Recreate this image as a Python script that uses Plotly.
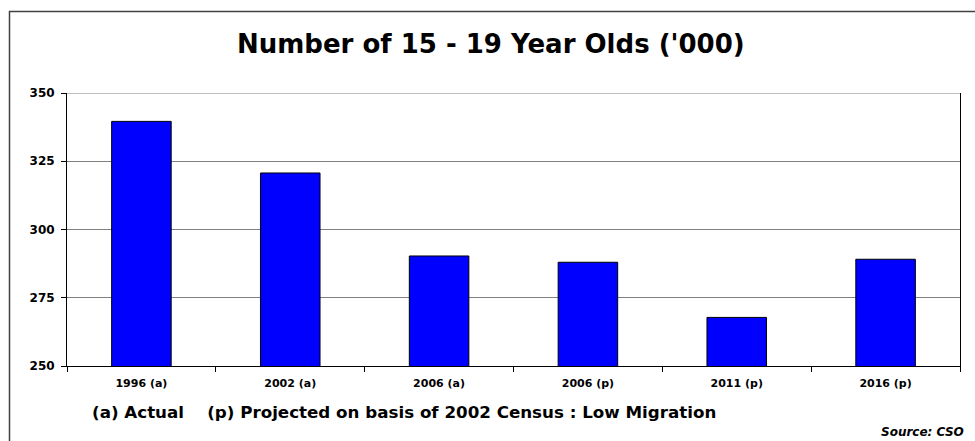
import plotly.graph_objects as go

# Population aged 15-19, thousands
categories = ["1996 (a)", "2002 (a)", "2006 (a)", "2006 (p)", "2011 (p)", "2016 (p)"]
values = [339.6, 320.7, 290.3, 288.0, 267.8, 289.1]
y_ticks = [250, 275, 300, 325, 350]

title_text = "Number of 15 - 19 Year Olds ('000)"
footnote = "(a) Actual    (p) Projected on basis of 2002 Census : Low Migration"
source = "Source: CSO"

FONT = "'DejaVu Sans', Arial, sans-serif"

W, H = 975, 441
L, R, T, B = 67, 15, 93, 75
pw, ph = W - L - R, H - T - B


def px_x(x):
    return (x - L) / pw


def px_y(y):
    return (H - B - y) / ph


fig = go.Figure(
    go.Bar(
        x=categories,
        y=values,
        marker=dict(color="#0000FF", line=dict(color="#000000", width=1)),
        hoverinfo="x+y",
    )
)

fig.update_layout(
    width=W,
    height=H,
    margin=dict(l=L, r=R, t=T, b=B),
    paper_bgcolor="white",
    plot_bgcolor="white",
    bargap=0.6,
    showlegend=False,
    font=dict(family=FONT, color="black"),
)

fig.update_xaxes(
    type="category",
    showline=True,
    linecolor="black",
    linewidth=1,
    mirror=False,
    ticks="outside",
    tickson="boundaries",
    ticklen=5,
    tickcolor="black",
    ticklabelstandoff=7,
    tickfont=dict(family=FONT, size=11, color="black", weight="bold"),
    showgrid=False,
)

fig.update_yaxes(
    range=[250, 350],
    tickvals=y_ticks,
    ticktext=[str(v) for v in y_ticks],
    showline=True,
    linecolor="black",
    linewidth=1,
    mirror=True,
    ticks="outside",
    ticklen=5,
    tickcolor="black",
    ticklabelstandoff=4,
    tickfont=dict(family=FONT, size=12, color="black", weight="bold"),
    showgrid=True,
    gridcolor="#808080",
    gridwidth=1,
    zeroline=False,
)

# Top gridline at 350 closes the plot box
fig.add_shape(
    type="line", xref="paper", yref="y", x0=0, x1=1, y0=350, y1=350,
    line=dict(color="#808080", width=1), layer="above",
)

# Outer chart frame
fig.add_shape(
    type="rect", xref="paper", yref="paper",
    x0=px_x(9.5), x1=px_x(990), y0=px_y(455), y1=px_y(11.5),
    line=dict(color="#404040", width=1.5), fillcolor="rgba(0,0,0,0)",
    layer="below",
)

# Chart title
fig.add_annotation(
    text="<b>" + title_text + "</b>",
    xref="paper", yref="paper",
    x=px_x(491), y=px_y(44),
    xanchor="center", yanchor="middle",
    showarrow=False,
    font=dict(family=FONT, size=26, color="black"),
)

fig.add_annotation(
    text="<b>" + footnote + "</b>",
    xref="paper", yref="paper",
    x=px_x(90), y=px_y(412),
    xanchor="left", yanchor="middle",
    showarrow=False,
    font=dict(family=FONT, size=16.7, color="black"),
)

fig.add_annotation(
    text="<b><i>" + source + "</i></b>",
    xref="paper", yref="paper",
    x=px_x(966), y=px_y(432),
    xanchor="right", yanchor="middle",
    showarrow=False,
    font=dict(family=FONT, size=12, color="black"),
)

fig.write_html("out.html")
